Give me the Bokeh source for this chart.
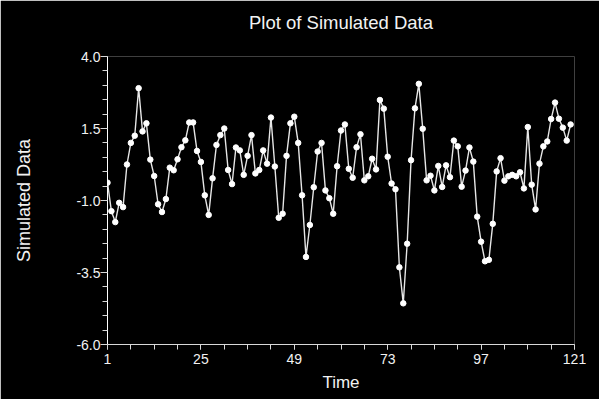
from bokeh.plotting import figure
from bokeh.models import Range1d, FixedTicker, Title
from bokeh.models import ColumnDataSource
from bokeh.embed import file_html
from bokeh.resources import INLINE

time = list(range(1, 121))
values = [
    -0.38, -1.37, -1.75, -1.08, -1.23, 0.25, 1.00, 1.25, 2.90, 1.40,
    1.68, 0.42, -0.15, -1.13, -1.40, -0.95, 0.14, 0.05, 0.43, 0.85,
    1.09, 1.71, 1.71, 0.72, 0.34, -0.82, -1.50, -0.23, 0.93, 1.27,
    1.50, 0.06, -0.43, 0.84, 0.74, -0.11, 0.55, 1.27, -0.06, 0.06,
    0.74, 0.28, 1.88, 0.18, -1.60, -1.46, 0.55, 1.68, 1.91, 1.00,
    -0.82, -2.96, -1.85, -0.54, 0.70, 1.00, -0.65, -0.92, -1.46, 0.19,
    1.43, 1.64, 0.10, -0.21, 0.85, 1.30, -0.30, -0.16, 0.45, 0.08,
    2.49, 2.19, 0.52, -0.41, -0.61, -3.32, -4.57, -2.50, 0.40, 2.20,
    3.05, 1.49, -0.30, -0.14, -0.65, 0.20, -0.53, 0.22, -0.19, 1.08,
    0.88, -0.52, 0.04, 0.84, 0.35, -1.56, -2.43, -3.11, -3.06, -1.81,
    0.01, 0.47, -0.31, -0.16, -0.11, -0.16, -0.02, -0.58, 1.55, -0.45,
    -1.31, 0.28, 0.88, 1.05, 1.83, 2.40, 1.84, 1.53, 1.08, 1.64,
]
x_ticks = [1, 25, 49, 73, 97, 121]
x_minor = list(range(1, 122, 6))
y_ticks = [-6.0, -3.5, -1.0, 1.5, 4.0]
y_minor = [-6.0 + 0.5 * k for k in range(21)]
y_tick_labels = {-6.0: "-6.0", -3.5: "-3.5", -1.0: "-1.0", 1.5: "1.5", 4.0: "4.0"}

title_text = "Plot of Simulated Data"
x_title = "Time"
y_title = "Simulated Data"

FONT = "Liberation Sans"
FG = "#f2f2f2"

src = ColumnDataSource(dict(t=time, v=values))

p = figure(width=599, height=399, output_backend="svg", toolbar_location=None,
           x_range=Range1d(1, 121), y_range=Range1d(-6, 4),
           min_border_left=107, min_border_right=25, min_border_top=56,
           min_border_bottom=55, title=title_text)
p.background_fill_color = "black"
p.border_fill_color = "black"
p.outline_line_color = None
p.grid.visible = False

p.title.align = "center"
p.title.text_font = FONT
p.title.text_font_size = "18.5px"
p.title.text_font_style = "normal"
p.title.text_color = FG

# empty spacer between the title and the frame
spacer = Title(text=" ", text_font_size="16px", standoff=0, text_color="black")
p.above = [spacer] + list(p.above)

p.line("t", "v", source=src, line_color="#e6e6e6", line_width=1.4)
p.scatter("t", "v", source=src, size=5.5, fill_color="white", line_color="white")

p.xaxis.ticker = FixedTicker(ticks=x_ticks, minor_ticks=x_minor)
p.yaxis.ticker = FixedTicker(ticks=y_ticks, minor_ticks=y_minor)
p.yaxis.major_label_overrides = y_tick_labels

for ax in (p.xaxis, p.yaxis):
    ax.axis_line_color = "#d8d8d8"
    ax.major_tick_line_color = "#d8d8d8"
    ax.minor_tick_line_color = "#d8d8d8"
    ax.major_label_text_color = FG
    ax.major_label_text_font = FONT
    ax.major_label_text_font_size = "14px"
    ax.axis_label_text_color = FG
    ax.axis_label_text_font = FONT
    ax.axis_label_text_font_style = "normal"
    ax.major_tick_in = 0
    ax.minor_tick_in = 0
p.yaxis.axis_line_color = "white"
p.yaxis.major_tick_out = 7
p.yaxis.minor_tick_out = 5
p.xaxis.major_tick_out = 5
p.xaxis.minor_tick_out = 5
p.yaxis.major_label_standoff = 0
p.xaxis.major_label_standoff = 4

p.xaxis.axis_label = x_title
p.xaxis.axis_label_text_font_size = "17px"
p.xaxis.axis_label_standoff = 6
p.yaxis.axis_label = y_title
p.yaxis.axis_label_text_font_size = "18px"
p.yaxis.axis_label_standoff = 39

open("out.html", "w").write(file_html(p, INLINE))
